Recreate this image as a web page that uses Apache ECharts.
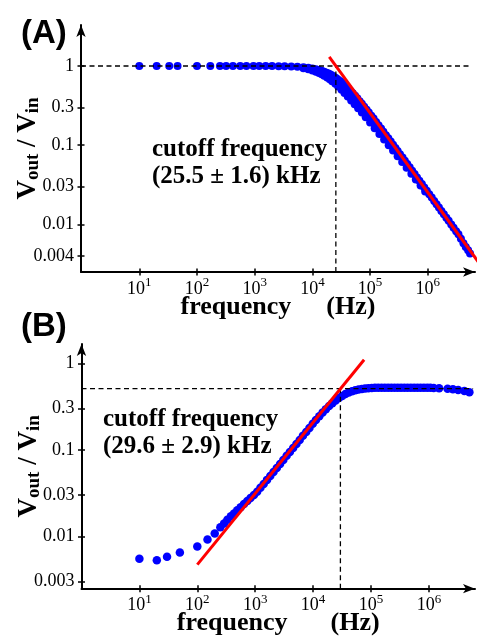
<!DOCTYPE html>
<html>
<head>
<meta charset="utf-8">
<script src="https://cdn.jsdelivr.net/npm/echarts@6/dist/echarts.min.js"></script>
<style>
html,body{margin:0;padding:0;background:#fff;}
#chart{width:482px;height:636px;}
</style>
</head>
<body>
<div id="chart"></div>
<script>
// ---------- Panel A (low-pass) data ----------
const freqA = [10, 20, 33, 46, 100, 170, 250, 320, 420, 560, 720, 950, 1200, 1550, 2000, 2600, 3300, 4300, 5500, 7000, 8500, 10000, 11500, 13000, 14500, 16000, 17500, 19000, 20500, 22000, 24000, 26000, 28000, 30500, 33000, 36000, 39000, 42000, 46000, 50000, 55000, 60000, 66000, 72000, 79000, 87000, 95000, 105000, 115000, 127000, 140000, 155000, 170000, 188000, 207000, 228000, 250000, 275000, 300000, 330000, 365000, 400000, 440000, 485000, 535000, 590000, 650000, 715000, 790000, 870000, 960000, 1060000, 1170000, 1290000, 1420000, 1560000, 1720000, 1900000, 2100000, 2300000, 2550000, 2800000, 3100000, 3400000, 3750000, 4150000, 4550000, 5000000, 5400000];
const ratioA = [1, 1, 1, 1, 1, 1, 1, 1, 1, 1, 1, 1, 0.999, 0.998, 0.997, 0.995, 0.992, 0.986, 0.977, 0.964, 0.949, 0.931, 0.912, 0.891, 0.869, 0.847, 0.825, 0.802, 0.779, 0.757, 0.728, 0.700, 0.673, 0.642, 0.612, 0.578, 0.547, 0.519, 0.485, 0.454, 0.421, 0.391, 0.360, 0.334, 0.307, 0.281, 0.259, 0.236, 0.217, 0.197, 0.179, 0.162, 0.148, 0.134, 0.122, 0.111, 0.1015, 0.0924, 0.0847, 0.0771, 0.0697, 0.0636, 0.0579, 0.0525, 0.0476, 0.0432, 0.0392, 0.0357, 0.0323, 0.0293, 0.0266, 0.0240, 0.0218, 0.0198, 0.0180, 0.0163, 0.0148, 0.0134, 0.0121, 0.0111, 0.0100, 0.0091, 0.0082, 0.0075, 0.0066, 0.0058, 0.0052, 0.0047, 0.0043];
// second (lower) sweep that thickens the band of panel A
const freqA2 = [7000, 8500, 10000, 11500, 13000, 14500, 16000, 18000, 20000, 22000, 25000, 28000, 32000, 36000, 41000, 47000, 54000, 62000, 72000, 84000, 100000, 120000, 145000, 175000, 210000, 250000, 300000, 360000, 430000, 520000, 620000, 750000, 900000];
const ratioA2 = [0.935, 0.909, 0.880, 0.849, 0.818, 0.787, 0.756, 0.717, 0.679, 0.644, 0.595, 0.551, 0.500, 0.457, 0.411, 0.366, 0.330, 0.293, 0.258, 0.226, 0.193, 0.164, 0.139, 0.118, 0.100, 0.086, 0.0728, 0.0615, 0.052, 0.0436, 0.037, 0.031, 0.026];
const fitFreqA = [19600, 8700000];
const fitRatioA = [1.3, 0.0029];
const cutoffA = 25500;          // Hz
const levelA = 1;               // reference level (dashed)
const yTicksA = [1, 0.3, 0.1, 0.03, 0.01, 0.004];
const yTickLabelsA = ['1', '0.3', '0.1', '0.03', '0.01', '0.004'];
const xRangeA = [0.976, 6580000];
const yRangeA = [0.002506, 3.295];

// ---------- Panel B (high-pass) data ----------
const freqB = [10, 20, 30, 50, 100, 150, 200, 250, 290, 330, 380, 430, 490, 560, 640, 730, 830, 950, 1080, 1230, 1400, 1600, 1820, 2070, 2360, 2690, 3060, 3490, 3970, 4520, 5150, 5860, 6670, 7600, 8650, 9850, 11200, 12800, 14600, 16600, 18900, 21500, 24500, 27900, 31800, 36200, 41200, 47000, 53500, 61000, 69500, 79000, 90000, 103000, 117000, 133000, 152000, 173000, 197000, 224000, 255000, 290000, 330000, 376000, 428000, 488000, 556000, 633000, 720000, 820000, 935000, 1060000, 1210000, 1500000, 2100000, 2600000, 3200000, 4100000, 5000000];
const ratioB = [0.0055, 0.0053, 0.0058, 0.0065, 0.0076, 0.0092, 0.0108, 0.0127, 0.0141, 0.0155, 0.0171, 0.0184, 0.0200, 0.0217, 0.0236, 0.0256, 0.0277, 0.0301, 0.0327, 0.0363, 0.0403, 0.0449, 0.0499, 0.0555, 0.0617, 0.0687, 0.0764, 0.0851, 0.0946, 0.105, 0.117, 0.130, 0.145, 0.161, 0.179, 0.200, 0.221, 0.244, 0.269, 0.294, 0.320, 0.346, 0.372, 0.396, 0.420, 0.442, 0.460, 0.475, 0.488, 0.498, 0.505, 0.511, 0.515, 0.518, 0.520, 0.521, 0.521, 0.522, 0.522, 0.522, 0.522, 0.522, 0.522, 0.522, 0.521, 0.521, 0.521, 0.520, 0.520, 0.520, 0.520, 0.520, 0.518, 0.515, 0.508, 0.500, 0.490, 0.478, 0.462];
const fitFreqB = [100, 76000];
const fitRatioB = [0.0047, 1.1];
const cutoffB = 29600;          // Hz
const levelB = 0.51;            // reference level (dashed)
const yTicksB = [1, 0.3, 0.1, 0.03, 0.01, 0.003];
const yTickLabelsB = ['1', '0.3', '0.1', '0.03', '0.01', '0.003'];
const xRangeB = [1, 6250000];
const yRangeB = [0.002479, 1.671];

// ---------- shared ----------
const xTicks = [10, 100, 1000, 10000, 100000, 1000000];
const guideEndFreq = 5800000;
const annotA = ['cutoff frequency', '(25.5 ± 1.6) kHz'];
const annotB = ['cutoff frequency', '(29.6 ± 2.9) kHz'];

const SERIF = '"Liberation Serif", "Times New Roman", serif';
const SANS = '"Liberation Sans", Arial, sans-serif';

function pairs(xs, ys) { return xs.map((x, i) => [x, ys[i]]); }

function yFormatter(ticks, labels) {
  return function (v) {
    for (let i = 0; i < ticks.length; i++) {
      if (Math.abs(Math.log10(v) - Math.log10(ticks[i])) < 1e-6) return labels[i];
    }
    return '';
  };
}

function xAxisPair(gridIndex, range, gap) {
  const common = {
    type: 'log', logBase: 10, gridIndex: gridIndex, min: range[0], max: range[1],
    position: 'bottom', splitLine: { show: false }, minorTick: { show: false }
  };
  return [
    Object.assign({}, common, {
      axisLine: { show: true, lineStyle: { color: '#000', width: 2 }, symbol: ['none', 'arrow'], symbolSize: [7, 12] },
      axisTick: { show: true, inside: false, length: 3.5, customValues: xTicks, lineStyle: { color: '#000', width: 1.5 } },
      axisLabel: {
        show: true, margin: 4, customValues: xTicks,
        formatter: function (v) { return '{b|10}{s|' + Math.round(Math.log10(v)) + '}'; },
        rich: {
          b: { fontFamily: SERIF, fontSize: 18, color: '#000', lineHeight: 22, verticalAlign: 'bottom' },
          s: { fontFamily: SERIF, fontSize: 13, color: '#000', lineHeight: 13, verticalAlign: 'top' }
        }
      },
      name: '{t|frequency}{g| }{t|(Hz)}',
      nameLocation: 'middle', nameGap: 21, nameMoveOverlap: false,
      nameTextStyle: {
        rich: {
          t: { fontFamily: SERIF, fontWeight: 'bold', fontSize: 26, color: '#000', lineHeight: 28 },
          g: { fontSize: 26, width: gap, lineHeight: 28 }
        }
      }
    }),
    Object.assign({}, common, {
      axisLine: { show: false },
      axisTick: { show: true, inside: true, length: 3.5, customValues: xTicks, lineStyle: { color: '#000', width: 1.5 } },
      axisLabel: { show: false }
    })
  ];
}

function yAxisPair(gridIndex, range, ticks, labels) {
  const common = {
    type: 'log', logBase: 10, gridIndex: gridIndex, min: range[0], max: range[1],
    position: 'left', splitLine: { show: false }, minorTick: { show: false }
  };
  return [
    Object.assign({}, common, {
      axisLine: { show: true, lineStyle: { color: '#000', width: 2 }, symbol: ['none', 'arrow'], symbolSize: [7, 12] },
      axisTick: { show: true, inside: false, length: 3.5, customValues: ticks, lineStyle: { color: '#000', width: 1.5 } },
      axisLabel: {
        show: true, margin: 7, customValues: ticks, formatter: yFormatter(ticks, labels),
        fontFamily: SERIF, fontSize: 18, color: '#000'
      },
      name: '{v|V}{s|out}{v| / V}{s|in}',
      nameLocation: 'middle', nameRotate: 90, nameGap: 38, nameMoveOverlap: false,
      nameTextStyle: {
        rich: {
          v: { fontFamily: SERIF, fontWeight: 'bold', fontSize: 27, color: '#000', lineHeight: 28, verticalAlign: 'top' },
          s: { fontFamily: SERIF, fontWeight: 'bold', fontSize: 19, color: '#000', lineHeight: 15, verticalAlign: 'bottom' }
        }
      }
    }),
    Object.assign({}, common, {
      axisLine: { show: false },
      axisTick: { show: true, inside: true, length: 3.5, customValues: ticks, lineStyle: { color: '#000', width: 1.5 } },
      axisLabel: { show: false }
    })
  ];
}

function scatterSeries(xIdx, yIdx, freq, ratio, dotSize) {
  return {
    type: 'scatter', xAxisIndex: xIdx, yAxisIndex: yIdx, data: pairs(freq, ratio),
    symbol: 'circle', symbolSize: dotSize, itemStyle: { color: '#0000ff', opacity: 1 }, z: 2, silent: true
  };
}

function guideSeries(xIdx, yIdx, fitF, fitR, cutoff, level, yMin, xMin) {
  return [
    {
      type: 'line', xAxisIndex: xIdx, yAxisIndex: yIdx, data: [[xMin, level], [guideEndFreq, level]],
      symbol: 'none', lineStyle: { color: '#000', width: 1.3, type: [5, 3.5] }, z: 3, silent: true
    },
    {
      type: 'line', xAxisIndex: xIdx, yAxisIndex: yIdx, data: [[cutoff, yMin], [cutoff, level]],
      symbol: 'none', lineStyle: { color: '#000', width: 1.3, type: [5, 3.5] }, z: 3, silent: true
    },
    {
      type: 'line', xAxisIndex: xIdx, yAxisIndex: yIdx, data: pairs(fitF, fitR), clip: false,
      symbol: 'none', lineStyle: { color: '#ff0000', width: 3 }, z: 4, silent: true
    }
  ];
}

const chart = echarts.init(document.getElementById('chart'), null, { renderer: 'canvas' });

const xA = xAxisPair(0, xRangeA, 35);
const xB = xAxisPair(1, xRangeB, 43);
const yA = yAxisPair(0, yRangeA, yTicksA, yTickLabelsA);
const yB = yAxisPair(1, yRangeB, yTicksB, yTickLabelsB);

const option = {
  animation: false,
  backgroundColor: '#fff',
  grid: [
    { left: 81, right: 7, top: 25, bottom: 364, containLabel: false, outerBoundsMode: 'none' },
    { left: 81.5, right: 7, top: 344, bottom: 47.3, containLabel: false, outerBoundsMode: 'none' }
  ],
  xAxis: [xA[0], xA[1], xB[0], xB[1]],
  yAxis: [yA[0], yA[1], yB[0], yB[1]],
  series: [
    scatterSeries(0, 0, freqA, ratioA, 8),
    scatterSeries(0, 0, freqA2, ratioA2, 8)
  ]
    .concat(guideSeries(0, 0, fitFreqA, fitRatioA, cutoffA, levelA, yRangeA[0], xRangeA[0]))
    .concat([scatterSeries(2, 2, freqB, ratioB, 8.5)])
    .concat(guideSeries(2, 2, fitFreqB, fitRatioB, cutoffB, levelB, yRangeB[0], xRangeB[0])),
  graphic: [
    { type: 'text', left: 21, top: 17, style: { text: '(A)', font: 'bold 33px ' + SANS, fill: '#000' } },
    { type: 'text', left: 21, top: 310, style: { text: '(B)', font: 'bold 33px ' + SANS, fill: '#000' } },
    { type: 'text', left: 152, top: 136, style: { text: annotA.join('\n'), font: 'bold 25px ' + SERIF, lineHeight: 27, fill: '#000' } },
    { type: 'text', left: 103, top: 406, style: { text: annotB.join('\n'), font: 'bold 25px ' + SERIF, lineHeight: 27, fill: '#000' } }
  ]
};
chart.setOption(option);
</script>
</body>
</html>
